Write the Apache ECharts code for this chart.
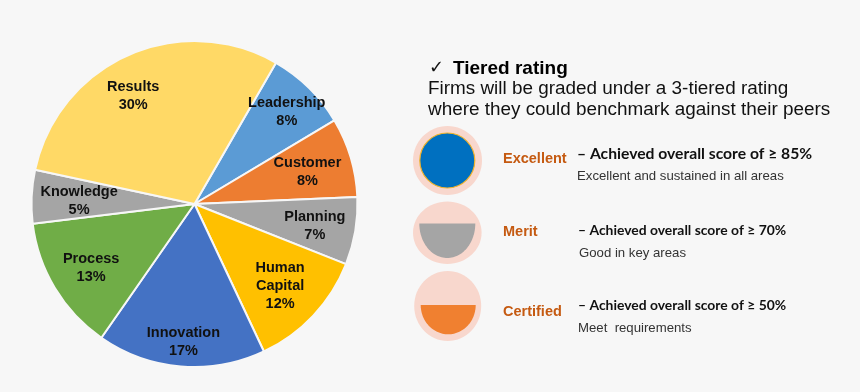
<!DOCTYPE html>
<html>
<head>
<meta charset="utf-8">
<style>html,body{margin:0;padding:0;background:#f7f7f7}#c{width:860px;height:392px}</style>
<script src="https://cdn.jsdelivr.net/npm/echarts@6/dist/echarts.min.js"></script>
</head>
<body>
<div id="c"></div>
<script>
const categories = ['Leadership','Customer','Planning','Human\nCapital','Innovation','Process','Knowledge','Results'];
// Slice sizes; the labels print them rounded to whole percent.
const shares = [8.1,7.9,6.7,12,16.7,13.4,5.3,30];
const sliceColors = ['#5B9BD5','#ED7D31','#A5A5A5','#FFC000','#4472C4','#70AD47','#A5A5A5','#FFD966'];
const labelOffsets = [[33,-32],[32,-8],[37,8],[24,24],[-4,54],[-31,20],[-31,1],[-27,-31]];

const chart = echarts.init(document.getElementById('c'), null, {renderer:'canvas'});
const sans = '"Liberation Sans", Arial, sans-serif';
const lato = 'Lato, "Open Sans", sans-serif';
const orange = '#C55A11', ink = '#111111', blush = '#F8D7CD';

function txt(x, y, text, fontSize, fontWeight, fill, fontFamily) {
  return {type:'text', x, y, style:{text, fontSize, fontWeight, fill, fontFamily: fontFamily || sans, textVerticalAlign:'middle', textAlign:'left'}};
}
function ell(cx, cy, rx, ry, fill) {
  return {type:'ellipse', shape:{cx, cy, rx, ry}, style:{fill}};
}
function bowl(cx, cy, rx, ry, fill) {
  const points = [];
  for (let a = 0; a <= 180; a += 3) {
    const t = a * Math.PI / 180;
    points.push([cx + rx * Math.cos(t), cy + ry * Math.sin(t)]);
  }
  return {type:'polygon', shape:{points}, style:{fill}};
}

chart.setOption({
  animation:false,
  backgroundColor:'#f7f7f7',
  series:[{
    type:'pie',
    center:[194.5,204],
    radius:[0,163],
    startAngle:60,
    clockwise:true,
    avoidLabelOverlap:false,
    minShowLabelAngle:0,
    itemStyle:{borderColor:'#f7f7f7',borderWidth:2},
    labelLine:{show:false},
    label:{
      position:'inside',
      formatter:p => p.name + '\n' + Math.round(p.value) + '%',
      fontFamily:sans,fontSize:14.5,fontWeight:'bold',color:'#111',lineHeight:18,align:'center'
    },
    data:categories.map((name,i)=>({
      name,value:shares[i],
      itemStyle:{color:sliceColors[i]},
      label:{offset:labelOffsets[i]}
    }))
  }],
  graphic:{elements:[
    txt(429,68,'\u2713',18,'bold','#111','"DejaVu Sans"'),
    txt(453,68.5,'Tiered rating',19,'bold','#000'),
    txt(428,88.5,'Firms will be graded under a 3-tiered rating',18.9,'normal','#111'),
    txt(428,109.5,'where they could benchmark against their peers',18.9,'normal','#111'),

    ell(447.5,160.5,34.5,34.5,blush),
    {type:'circle',shape:{cx:447.3,cy:160.5,r:27.5},style:{fill:'#0070C0',stroke:'#F2B32A',lineWidth:1.2}},
    txt(503,159,'Excellent',14.5,'bold',orange),
    txt(577,154,'\u2013 Achieved overall score of \u2265 85%',15.7,'bold',ink,lato),
    txt(577,176.5,'Excellent and sustained in all areas',13.2,'normal','#333'),

    ell(447.3,232.8,34.3,31.2,blush),
    bowl(447.3,223.5,28,34.5,'#A5A5A5'),
    txt(503,232,'Merit',14.5,'bold',orange),
    txt(578,231,'\u2013 Achieved overall score of \u2265 70%',13.9,'bold',ink,lato),
    txt(579,253,'Good in key areas',13.2,'normal','#333'),

    ell(447.7,306,33.5,35,blush),
    bowl(448.2,305,27.5,29.3,'#F08030'),
    txt(503,311.5,'Certified',14.5,'bold',orange),
    txt(578,306,'\u2013 Achieved overall score of \u2265 50%',13.9,'bold',ink,lato),
    txt(578,328.5,'Meet  requirements',13.2,'normal','#333')
  ]}
});
</script>
</body>
</html>
